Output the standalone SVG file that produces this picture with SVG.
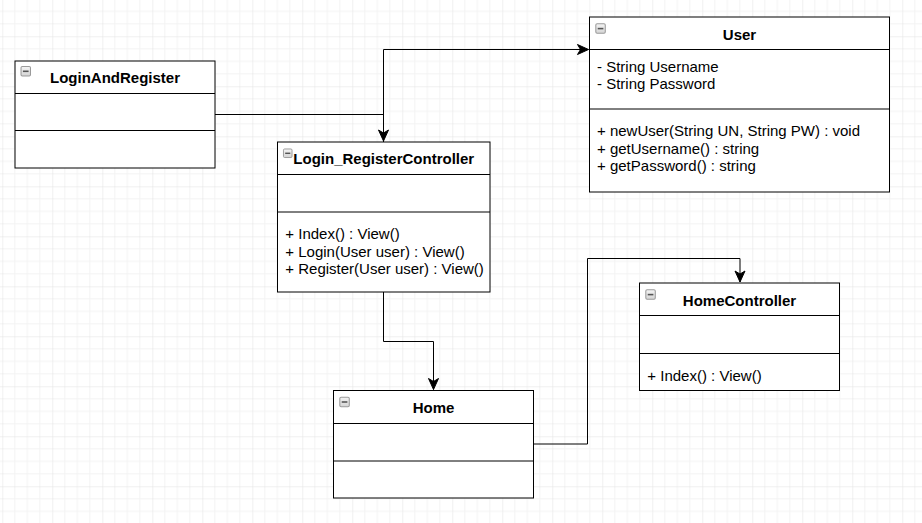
<svg xmlns="http://www.w3.org/2000/svg" width="922" height="523" viewBox="0 0 922 523">
<defs>
<pattern id="grid" patternUnits="userSpaceOnUse" x="2.3" y="36.3" width="50" height="50">
<path d="M12.5,0V50M25,0V50M37.5,0V50M0,12.5H50M0,25H50M0,37.5H50" stroke="#f3f3f3" stroke-width="1" fill="none"/>
<path d="M0,0V50M0,0H50" stroke="#e2e2e2" stroke-width="1" fill="none"/>
</pattern>
<linearGradient id="ig" x1="0" y1="0" x2="0" y2="1">
<stop offset="0" stop-color="#f4f4f4"/>
<stop offset="1" stop-color="#d4d4d4"/>
</linearGradient>
<symbol id="icon" viewBox="0 0 10 10" overflow="visible">
<rect x="0.5" y="0.5" width="9" height="9" rx="1.2" fill="url(#ig)" stroke="#9a9a9a" stroke-width="1"/>
<rect x="2.3" y="4.3" width="5.4" height="1.5" fill="#555"/>
</symbol>
<marker id="arrow" markerUnits="userSpaceOnUse" markerWidth="12" markerHeight="11" refX="11" refY="5" orient="auto" overflow="visible">
<path d="M0,0 L11,5 L0,10 L3,5 Z" fill="#000" stroke="#000" stroke-width="1" stroke-linejoin="miter"/>
</marker>
</defs>
<style>
.box{fill:#fff;stroke:#000;stroke-width:1}
.div{stroke:#000;stroke-width:1;fill:none}
.title{font-family:"Liberation Sans",Arial,sans-serif;font-size:15px;font-weight:bold;text-anchor:middle;fill:#000}
.item{font-family:"Liberation Sans",Arial,sans-serif;font-size:15px;fill:#000}
.conn{fill:none;stroke:#000;stroke-width:1}
</style>
<rect x="0" y="0" width="922" height="523" fill="#fff"/>
<rect x="0" y="0" width="922" height="523" fill="url(#grid)"/>

<g id="connectors">
<path class="conn" d="M215,114.5H383.5V141" marker-end="url(#arrow)"/>
<path class="conn" d="M383.5,142V49.5H588.5" marker-end="url(#arrow)"/>
<path class="conn" d="M383.5,292V341.5H433.5V389.5" marker-end="url(#arrow)"/>
<path class="conn" d="M533.5,444H587.5V258.5H740V282" marker-end="url(#arrow)"/>
</g>

<g id="LoginAndRegister">
<rect class="box" x="15" y="61" width="200" height="107"/>
<path class="div" d="M15,93.5H215M15,130.5H215"/>
<use href="#icon" x="20.5" y="66" width="10.5" height="10.5"/>
<text class="title" x="115" y="83">LoginAndRegister</text>
</g>

<g id="User">
<rect class="box" x="589.5" y="17" width="300" height="175"/>
<path class="div" d="M589.5,49.5H889.5M589.5,109H889.5"/>
<use href="#icon" x="595.3" y="23.3" width="10.5" height="10.5"/>
<text class="title" x="739.5" y="39.5">User</text>
<text class="item" x="597" y="71.5">- String Username</text>
<text class="item" x="597" y="89.3">- String Password</text>
<text class="item" x="597" y="136">+ newUser(String UN, String PW) : void</text>
<text class="item" x="597" y="153.5">+ getUsername() : string</text>
<text class="item" x="597" y="171">+ getPassword() : string</text>
</g>

<g id="Login_RegisterController">
<rect class="box" x="277.5" y="142" width="212.5" height="150"/>
<path class="div" d="M277.5,174.5H490M277.5,212H490"/>
<use href="#icon" x="283" y="148.5" width="9.5" height="9.5"/>
<text class="title" x="383.75" y="164.3">Login_RegisterController</text>
<text class="item" x="285.3" y="239.3">+ Index() : View()</text>
<text class="item" x="285.3" y="256.7">+ Login(User user) : View()</text>
<text class="item" x="285.3" y="274">+ Register(User user) : View()</text>
</g>

<g id="Home">
<rect class="box" x="333.5" y="390.5" width="200" height="107.5"/>
<path class="div" d="M333.5,423.5H533.5M333.5,461H533.5"/>
<use href="#icon" x="339.3" y="396.7" width="10.5" height="10.5"/>
<text class="title" x="433.5" y="413.3">Home</text>
</g>

<g id="HomeController">
<rect class="box" x="639.5" y="283" width="200" height="107.5"/>
<path class="div" d="M639.5,315.5H839.5M639.5,353.5H839.5"/>
<use href="#icon" x="645.3" y="289.3" width="10.5" height="10.5"/>
<text class="title" x="739.5" y="305.7">HomeController</text>
<text class="item" x="647.3" y="380.7">+ Index() : View()</text>
</g>
</svg>
